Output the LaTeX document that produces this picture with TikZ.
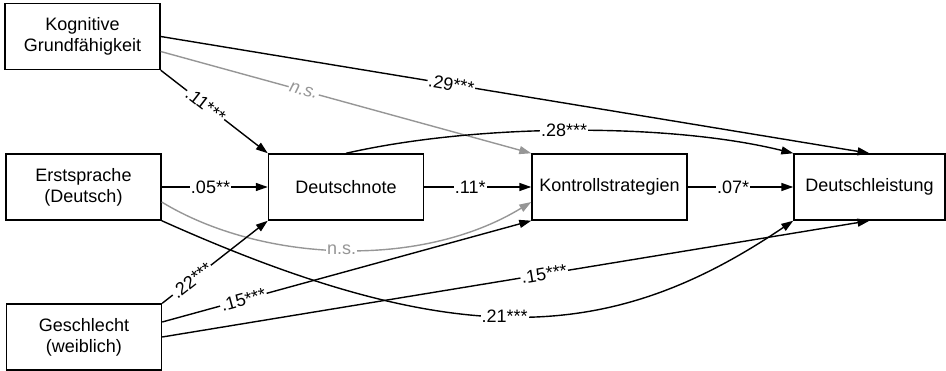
\documentclass[tikz,border=0pt]{standalone}
\usepackage{fontspec}
\setmainfont{Liberation Sans}
\usetikzlibrary{arrows.meta}
\definecolor{nsgray}{RGB}{150,150,150}
\tikzset{
  box/.style={draw, line width=1.4pt, minimum width=155pt, minimum height=66pt, inner sep=0pt, align=center, font=\fontsize{18}{21}\selectfont},
  path/.style={line width=1.4pt, -{Triangle[length=12pt,width=8pt]}},
  nspath/.style={path, draw=nsgray, color=nsgray},
  lab/.style={fill=white, inner sep=1pt, font=\fontsize{18}{21}\selectfont},
  nslab/.style={lab, text=nsgray}
}
\begin{document}
\begin{tikzpicture}[x=1pt,y=-1pt]
\useasboundingbox (0,0) rectangle (946,371);
\node[box] (K) at (82.5,36.5) {Kognitive\\Grundfähigkeit};
\node[box] (E) at (83.5,187) {Erstsprache\\(Deutsch)};
\node[box] (G) at (84,337) {Geschlecht\\(weiblich)};
\node[box] (DN) at (346,187) {Deutschnote};
\node[box] (KS) at (609.5,187) {Kontrollstrategien};
\node[box, minimum width=151pt] (DL) at (869.5,187) {Deutschleistung};

% Kognitive
\draw[path] (K.east) -- node[lab, sloped, pos=0.41] {.29***} (DL.north);
\draw[nspath] ([yshift=-15pt]K.east) -- node[nslab, sloped, pos=0.386] {\itshape n.s.} (KS.north west);
\draw[path] (K.south east) -- node[lab, sloped, pos=0.42] {.11***} (DN.north west);

% Erstsprache
\draw[path] (E.east) -- node[lab, pos=0.46] {.05**} (DN.west);
\draw[nspath] ([yshift=-15pt]E.east) .. controls (260,262) and (420,270) .. node[nslab, pos=0.5] {n.s.} ([yshift=-15pt]KS.west);
\draw[path] (E.south east) .. controls (461,355) and (614,342) .. node[lab, pos=0.47] {.21***} (DL.south west);

% Geschlecht
\draw[path] (G.north east) -- node[lab, sloped, pos=0.28] {.22***} (DN.south west);
\draw[path] ([yshift=15pt]G.east) -- node[lab, sloped, pos=0.22] {.15***} (KS.south west);
\draw[path] (G.east) -- node[lab, sloped, pos=0.54] {.15***} (DL.south);

% Deutschnote
\draw[path] (DN.north) .. controls (479,123) and (671,123) .. node[lab, pos=0.48] {.28***} (DL.north west);
\draw[path] (DN.east) -- node[lab, pos=0.43] {.11*} (KS.west);

% Kontrollstrategien
\draw[path] (KS.east) -- node[lab, pos=0.43] {.07*} (DL.west);
\end{tikzpicture}
\end{document}
